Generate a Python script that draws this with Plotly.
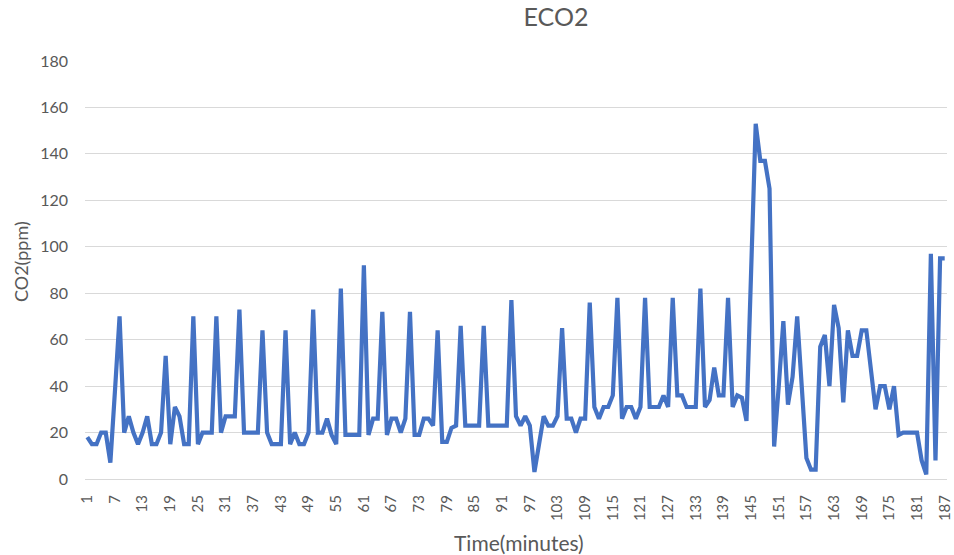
import plotly.graph_objects as go

minutes = list(range(1, 188))
eco2 = [
    18, 15, 15, 20, 20, 7, 38, 70, 20, 27,
    20, 15, 20, 27, 15, 15, 20, 53, 15, 31,
    27, 15, 15, 70, 15, 20, 20, 20, 70, 20,
    27, 27, 27, 73, 20, 20, 20, 20, 64, 20,
    15, 15, 15, 64, 15, 20, 15, 15, 20, 73,
    20, 20, 26, 19, 15, 82, 19, 19, 19, 19,
    92, 19, 26, 26, 72, 19, 26, 26, 20, 26,
    72, 19, 19, 26, 26, 23, 64, 16, 16, 22,
    23, 66, 23, 23, 23, 23, 66, 23, 23, 23,
    23, 23, 77, 27, 23, 27, 23, 3, 15, 27,
    23, 23, 27, 65, 26, 26, 20, 26, 26, 76,
    31, 26, 31, 31, 36, 78, 26, 31, 31, 26,
    31, 78, 31, 31, 31, 36, 31, 78, 36, 36,
    31, 31, 31, 82, 31, 34, 48, 36, 36, 78,
    31, 36, 35, 25, 85, 153, 137, 137, 125, 14,
    40, 68, 32, 44, 70, 38, 9, 4, 4, 57,
    62, 40, 75, 65, 33, 64, 53, 53, 64, 64,
    45, 30, 40, 40, 30, 40, 19, 20, 20, 20,
    20, 8, 2, 97, 8, 95, 95,
]
x_ticks = list(range(1, 188, 6))
y_ticks = list(range(0, 181, 20))

FONT = "Lato, Calibri, Carlito, sans-serif"
GREY = "#595959"

fig = go.Figure()
fig.add_trace(go.Scatter(
    x=minutes, y=eco2, mode="lines",
    line=dict(color="#4472C4", width=4.2, shape="linear"),
    hoverinfo="x+y", showlegend=False,
))

fig.update_layout(
    width=954, height=555,
    margin=dict(l=85, r=7, t=61, b=76),
    paper_bgcolor="white", plot_bgcolor="white",
    font=dict(family=FONT, color=GREY),
    title=dict(text="ECO2", x=556 / 954, xanchor="center",
               y=1 - 17 / 555, yanchor="middle",
               font=dict(family=FONT, size=25, color=GREY)),
    xaxis=dict(
        range=[0.5, 187.5], tickmode="array", tickvals=x_ticks,
        ticktext=[str(v) for v in x_ticks], tickangle=-90,
        tickfont=dict(family=FONT, size=15, color=GREY),
        showgrid=False, zeroline=False, showline=True,
        linecolor="#d9d9d9", linewidth=1, ticks="",
        ticklabelstandoff=9, automargin=False,
    ),
    yaxis=dict(
        range=[0, 180], tickmode="array", tickvals=y_ticks,
        tickfont=dict(family=FONT, size=16, color=GREY),
        showgrid=True, gridcolor="#d9d9d9", gridwidth=1,
        zeroline=False, showline=False, ticks="",
        ticklabelstandoff=16, automargin=False,
    ),
    annotations=[
        dict(text="CO2(ppm)", xref="paper", yref="paper",
             x=(21 - 85) / 862, y=(479 - 262) / 418,
             xanchor="center", yanchor="middle",
             textangle=-90, showarrow=False,
             font=dict(family=FONT, size=18, color=GREY)),
        dict(text="Time(minutes)", xref="paper", yref="paper",
             x=(519 - 85) / 862, y=-(542 - 479) / 418,
             xanchor="center", yanchor="middle", showarrow=False,
             font=dict(family=FONT, size=21, color=GREY)),
    ],
)

fig.write_html("out.html")
